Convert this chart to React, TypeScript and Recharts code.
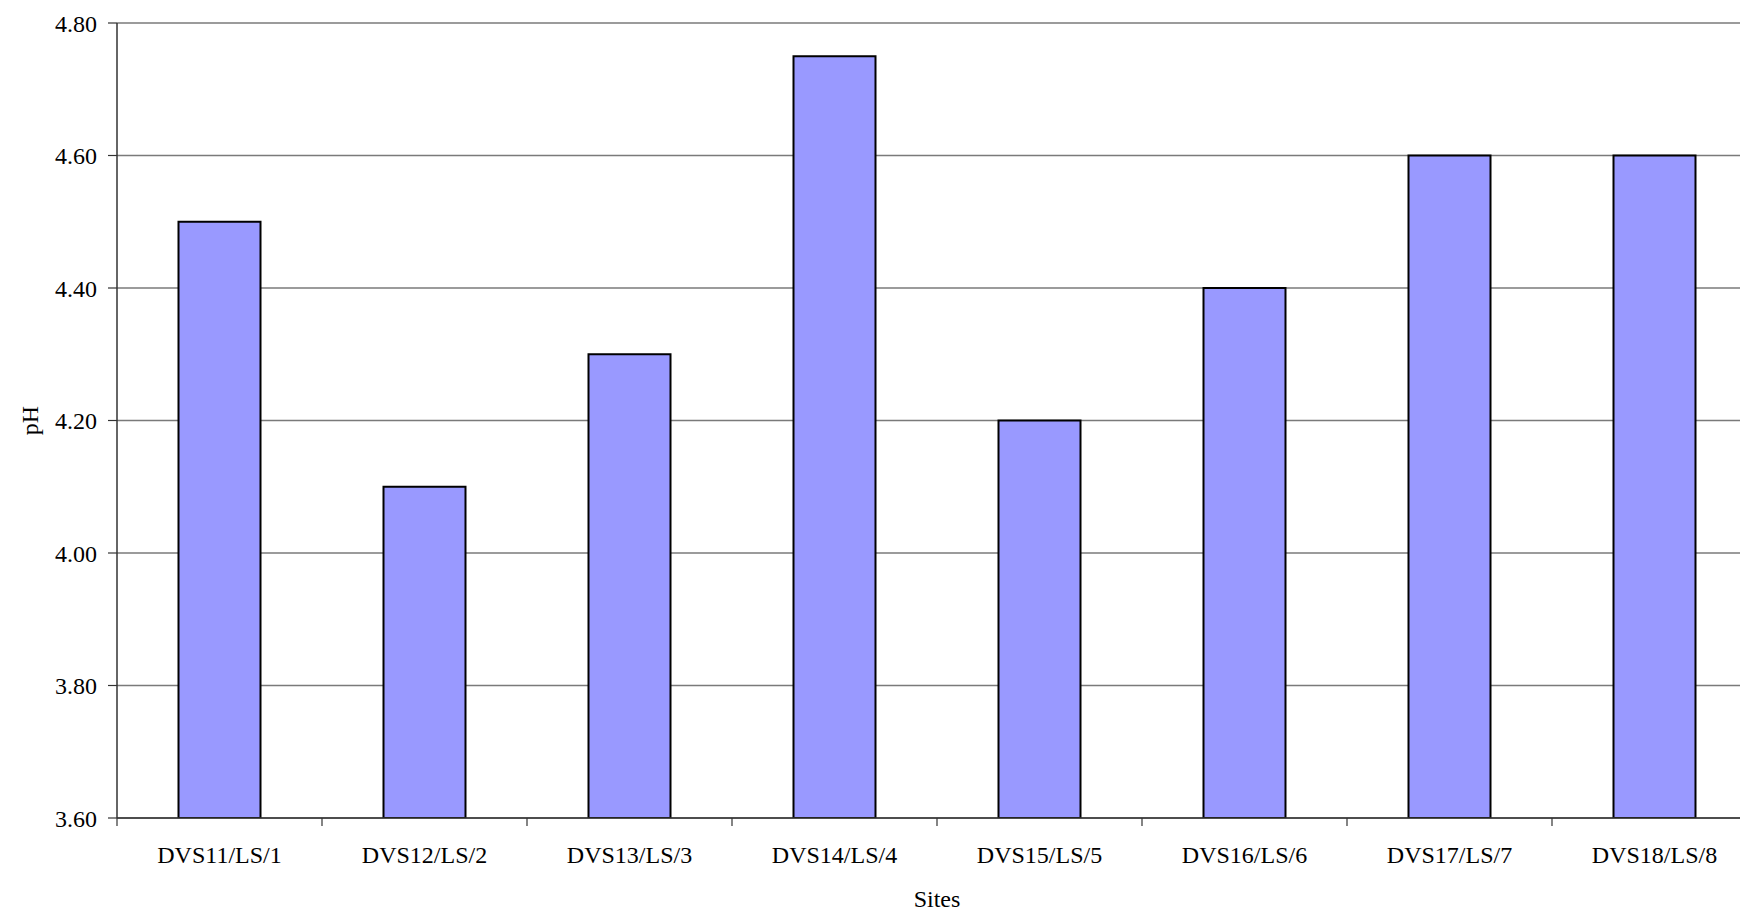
import React from 'react';
import { BarChart, Bar, XAxis, YAxis, CartesianGrid, Label } from 'recharts';

const categories = ['DVS11/LS/1', 'DVS12/LS/2', 'DVS13/LS/3', 'DVS14/LS/4', 'DVS15/LS/5', 'DVS16/LS/6', 'DVS17/LS/7', 'DVS18/LS/8'];
const phValues = [4.5, 4.1, 4.3, 4.75, 4.2, 4.4, 4.6, 4.6];
const yTicks = [3.6, 3.8, 4.0, 4.2, 4.4, 4.6, 4.8];

const data = categories.map((site, i) => ({ site, pH: phValues[i] }));

const FONT = "'Liberation Serif', 'Times New Roman', serif";
const CHART_W = 1800;
const CHART_H = 912;
const MARGIN = { top: 23, right: 43, left: 0, bottom: 0 };
const Y_AXIS_W = 117;
const PLOT_W = CHART_W - MARGIN.left - MARGIN.right - Y_AXIS_W;
const BAND = PLOT_W / categories.length;
const TICK_SIZE = 8;
const TICK_MARGIN = 20;

const XTick = (props: any) => {
  const { x, y, payload } = props;
  const axisY = y - TICK_SIZE - TICK_MARGIN;
  const lx = x - BAND / 2;
  return (
    <g>
      <line x1={lx} x2={lx} y1={axisY} y2={axisY + TICK_SIZE} stroke="#333" strokeWidth={1.2} />
      <text x={x} y={y} dy="0.71em" textAnchor="middle" fill="#000" fontSize={24} fontFamily={FONT}>
        {payload.value}
      </text>
    </g>
  );
};

export default function App() {
  return (
    <div style={{ position: 'absolute', left: 0, top: 0, width: 1740, height: 912, overflow: 'hidden', background: '#fff' }}>
      <BarChart width={CHART_W} height={CHART_H} data={data} margin={MARGIN} barCategoryGap="30%">
        <CartesianGrid vertical={false} stroke="#7a7a7a" strokeWidth={1.4} />
        <XAxis
          dataKey="site"
          height={912 - 818}
          tickSize={TICK_SIZE}
          tickMargin={TICK_MARGIN}
          tickLine={false}
          tick={<XTick />}
          axisLine={{ stroke: '#333', strokeWidth: 1.5 }}
          interval={0}
        >
          <Label value="Sites" position="insideBottom" offset={5} fill="#000" fontSize={24} fontFamily={FONT} />
        </XAxis>
        <YAxis
          width={Y_AXIS_W}
          domain={[3.6, 4.8]}
          ticks={yTicks}
          allowDataOverflow
          tickFormatter={(v: number) => v.toFixed(2)}
          tickSize={9}
          tickMargin={11}
          tick={{ fill: '#000', fontSize: 24, fontFamily: FONT }}
          tickLine={{ stroke: '#333', strokeWidth: 1.2 }}
          axisLine={{ stroke: '#333', strokeWidth: 1.5 }}
        >
          <Label value="pH" angle={-90} position="insideLeft" offset={29} fill="#000" fontSize={24} fontFamily={FONT} style={{ textAnchor: 'middle' }} />
        </YAxis>
        <Bar dataKey="pH" fill="#9999FF" stroke="#000" strokeWidth={2} isAnimationActive={false} />
      </BarChart>
    </div>
  );
}
